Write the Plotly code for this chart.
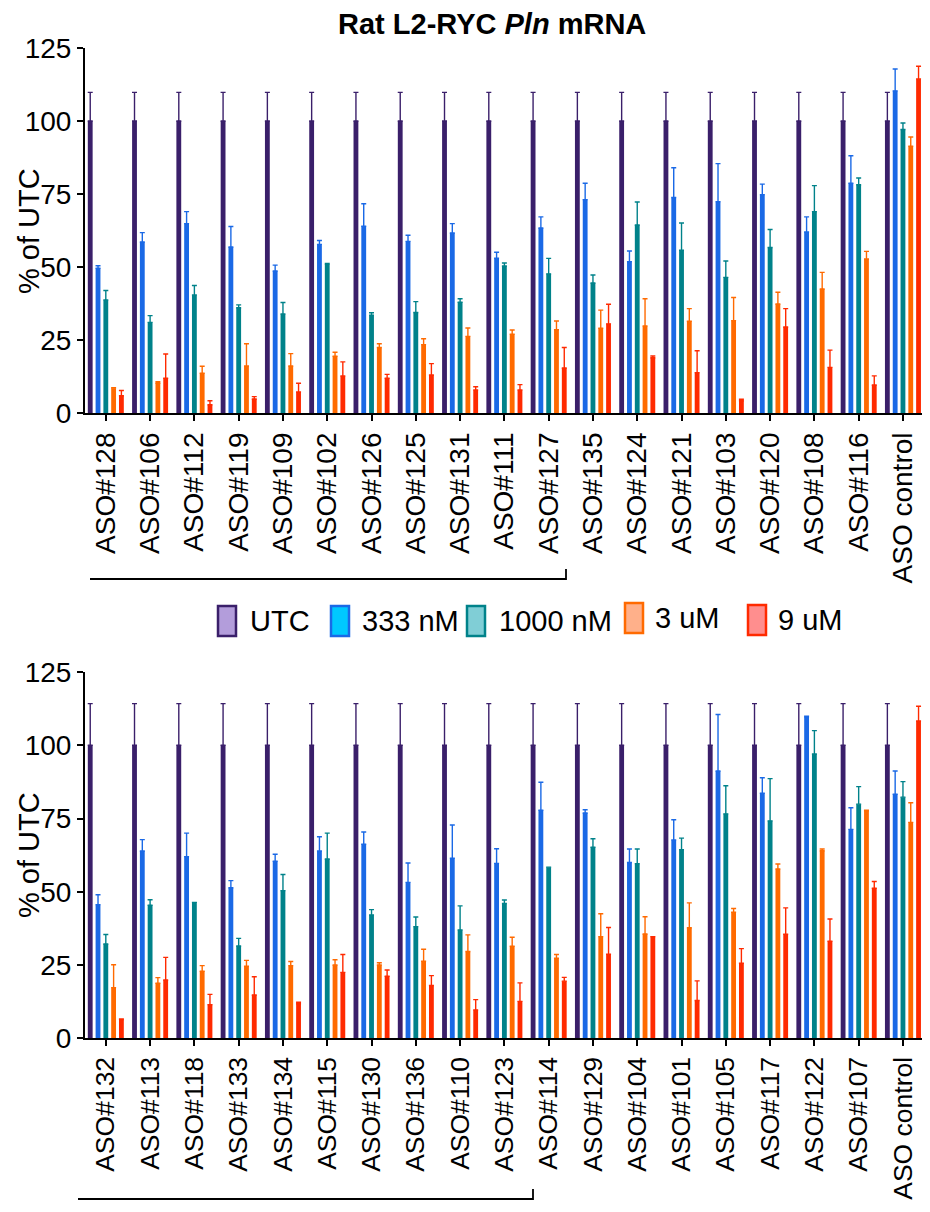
import plotly.graph_objects as go

# ---------------- data ----------------
series_names = ["UTC", "333 nM", "1000 nM", "3 uM", "9 uM"]

top_categories = ["ASO#128", "ASO#106", "ASO#112", "ASO#119", "ASO#109", "ASO#102",
                  "ASO#126", "ASO#125", "ASO#131", "ASO#111", "ASO#127", "ASO#135",
                  "ASO#124", "ASO#121", "ASO#103", "ASO#120", "ASO#108", "ASO#116",
                  "ASO control"]
top_utc = [100] * 19
top_utc_err = [9.8] * 19
top_333 = [49.6, 58.6, 64.9, 56.9, 48.7, 57.8, 64.0, 58.8, 61.7, 53.1, 63.4, 73.1,
           51.9, 73.8, 72.4, 74.8, 62.0, 78.7, 110.3]
top_333_err = [0.9, 3.2, 4.1, 7.0, 2.0, 1.3, 7.7, 2.1, 3.2, 2.0, 3.8, 5.6,
               3.6, 10.2, 13.0, 3.6, 5.2, 9.4, 7.5]
top_1000 = [38.8, 31.1, 40.5, 36.1, 34.0, 51.1, 33.6, 34.5, 38.0, 50.4, 47.7, 44.6,
            64.4, 55.8, 46.5, 56.7, 69.0, 78.2, 97.1]
top_1000_err = [3.2, 2.3, 3.2, 1.0, 3.9, 0.2, 0.8, 3.7, 1.2, 1.0, 5.3, 2.7,
                7.9, 9.3, 5.6, 6.2, 8.9, 2.3, 2.2]
top_3u = [8.6, 10.3, 13.7, 16.2, 16.2, 19.5, 22.5, 23.5, 26.3, 27.1, 28.6, 29.1,
          29.9, 31.5, 31.7, 37.4, 42.5, 52.8, 91.4]
top_3u_err = [0.2, 0.5, 2.4, 7.6, 4.2, 1.4, 1.3, 2.0, 2.9, 1.4, 3.0, 6.2,
              9.3, 4.3, 7.9, 4.0, 5.7, 2.6, 3.1]
top_9u = [6.0, 12.0, 2.9, 4.9, 7.3, 12.8, 12.0, 13.1, 8.0, 8.0, 15.5, 30.6,
          19.0, 13.9, 4.3, 29.5, 15.7, 9.7, 114.4]
top_9u_err = [1.8, 8.3, 1.4, 0.8, 3.0, 4.8, 1.3, 3.9, 1.1, 1.8, 7.0, 6.7,
              0.6, 7.5, 0.5, 6.3, 5.9, 3.1, 4.3]

bot_categories = ["ASO#132", "ASO#113", "ASO#118", "ASO#133", "ASO#134", "ASO#115",
                  "ASO#130", "ASO#136", "ASO#110", "ASO#123", "ASO#114", "ASO#129",
                  "ASO#104", "ASO#101", "ASO#105", "ASO#117", "ASO#122", "ASO#107",
                  "ASO control"]
bot_utc = [100] * 19
bot_utc_err = [14.2] * 19
bot_333 = [45.6, 63.9, 62.0, 51.4, 60.4, 63.9, 66.2, 53.2, 61.5, 59.7, 77.8, 76.9,
           60.0, 67.7, 91.2, 83.6, 109.7, 71.3, 83.3]
bot_333_err = [3.4, 3.9, 8.0, 2.4, 2.4, 4.9, 4.2, 6.6, 11.3, 5.0, 9.6, 1.1,
               4.6, 6.9, 19.3, 5.3, 0.2, 7.4, 7.9]
bot_1000 = [32.2, 45.4, 46.4, 31.5, 50.4, 61.2, 42.1, 38.1, 37.0, 46.0, 58.4, 65.2,
            59.6, 64.4, 76.6, 74.2, 97.0, 79.9, 82.3]
bot_1000_err = [3.2, 1.9, 0.0, 2.6, 5.5, 8.8, 1.8, 3.3, 8.2, 1.2, 0.0, 2.9,
                5.0, 3.9, 9.6, 14.4, 8.0, 6.0, 5.3]
bot_3u = [17.3, 18.8, 22.9, 24.6, 24.8, 25.0, 25.0, 26.3, 29.6, 31.4, 27.3, 34.7,
          35.6, 37.7, 43.0, 57.8, 64.0, 77.6, 73.7]
bot_3u_err = [7.8, 1.9, 1.9, 2.0, 1.4, 1.8, 0.8, 4.1, 5.7, 3.1, 1.3, 7.8,
              5.9, 8.5, 1.3, 1.7, 0.6, 0.2, 6.7]
bot_9u = [6.4, 19.9, 11.5, 14.8, 11.8, 22.5, 21.2, 18.0, 9.7, 12.6, 19.5, 28.7,
          34.7, 12.9, 25.6, 35.5, 33.1, 51.2, 108.3]
bot_9u_err = [0.2, 7.7, 3.5, 6.2, 0.5, 6.1, 2.1, 3.4, 3.5, 6.3, 1.3, 9.1,
              0.0, 6.7, 5.0, 9.0, 7.6, 2.3, 5.0]

y_ticks = [0, 25, 50, 75, 100, 125]

# ---------------- styles ----------------
bar_colors = ["#3a1f6a", "#1a69e6", "#00828a", "#ff6a00", "#ff2a00"]
legend_fill = ["#b39ddb", "#00c8ff", "#80ced6", "#ffb08a", "#ff8e8e"]
FONT = "Liberation Sans, Arial, Helvetica, sans-serif"

OFF = 8                 # default page body margin (all sides)
W, H = 930 - 2 * OFF, 1212 - 2 * OFF
ML, MR = 85 - OFF, 0
PW = W - ML - MR


def px(x):
    """page pixel x -> paper x"""
    return (x - OFF - ML) / PW


def py(y):
    """page pixel y -> paper y"""
    return (H - (y - OFF)) / H


fig = go.Figure()

top_sets = [(top_utc, top_utc_err), (top_333, top_333_err), (top_1000, top_1000_err),
            (top_3u, top_3u_err), (top_9u, top_9u_err)]
bot_sets = [(bot_utc, bot_utc_err), (bot_333, bot_333_err), (bot_1000, bot_1000_err),
            (bot_3u, bot_3u_err), (bot_9u, bot_9u_err)]

for cats, sets, xa, ya in [(top_categories, top_sets, "x", "y"),
                           (bot_categories, bot_sets, "x2", "y2")]:
    for i, (vals, errs) in enumerate(sets):
        fig.add_trace(go.Bar(
            x=cats, y=vals, name=series_names[i], xaxis=xa, yaxis=ya,
            marker=dict(color=bar_colors[i], line=dict(width=0)),
            error_y=dict(type="data", array=errs, arrayminus=[0] * len(errs),
                         symmetric=False, color=bar_colors[i],
                         thickness=1.4, width=2.5),
            showlegend=False, cliponaxis=False,
        ))

axis_common = dict(showline=True, linecolor="black", linewidth=2,
                   ticks="outside", ticklen=6, tickwidth=2, tickcolor="black",
                   showgrid=False, zeroline=False)

x_range = [-0.47, 18.43]
fig.update_layout(
    width=W, height=H,
    margin=dict(l=ML, r=MR, t=0, b=0, autoexpand=False),
    plot_bgcolor="white", paper_bgcolor="white",
    barmode="group", bargap=0.12, bargroupgap=0.38,
    font=dict(family=FONT, color="black"),
    xaxis=dict(domain=[0, 1], anchor="y", range=x_range, type="category",
               tickangle=-90, tickfont=dict(size=28), **axis_common),
    yaxis=dict(domain=[py(413.3), py(47.9)], anchor="x", range=[0, 125],
               tickvals=y_ticks, tickfont=dict(size=28), **axis_common),
    xaxis2=dict(domain=[0, 1], anchor="y2", range=x_range, type="category",
                tickangle=-90, tickfont=dict(size=26.5), **axis_common),
    yaxis2=dict(domain=[py(1038.3), py(672.0)], anchor="x2", range=[0, 125],
                tickvals=y_ticks, tickfont=dict(size=28), **axis_common),
)

annotations = [
    dict(text="<b>Rat L2-RYC <i>Pln</i> mRNA</b>", x=px(492), y=py(24),
         xref="paper", yref="paper", showarrow=False, font=dict(size=29),
         xanchor="center", yanchor="middle"),
    dict(text="% of UTC", x=px(29), y=py(231), xref="paper", yref="paper",
         showarrow=False, textangle=-90, font=dict(size=29),
         xanchor="center", yanchor="middle"),
    dict(text="% of UTC", x=px(29), y=py(855), xref="paper", yref="paper",
         showarrow=False, textangle=-90, font=dict(size=29),
         xanchor="center", yanchor="middle"),
]

shapes = []
# brackets
shapes.append(dict(type="path", xref="paper", yref="paper",
                   path=f"M{px(90)},{py(579)} L{px(566)},{py(579)} L{px(566)},{py(569)}",
                   line=dict(color="black", width=1.8)))
shapes.append(dict(type="path", xref="paper", yref="paper",
                   path=f"M{px(78)},{py(1199)} L{px(533)},{py(1199)} L{px(533)},{py(1189)}",
                   line=dict(color="black", width=1.8)))

# manual legend
legend_items = [
    (217, 605, 248),
    (330, 605, 360),
    (466, 605, 497),
    (624, 602, 653),
    (747, 604, 776),
]
for i, (rx, ry, tx) in enumerate(legend_items):
    shapes.append(dict(type="rect", xref="paper", yref="paper",
                       x0=px(rx + 1), x1=px(rx + 19), y0=py(ry + 1), y1=py(ry + 31),
                       fillcolor=legend_fill[i],
                       line=dict(color=bar_colors[i], width=2.5)))
    annotations.append(dict(text=series_names[i], x=px(tx), y=py(ry + 16),
                            xref="paper", yref="paper", showarrow=False,
                            font=dict(size=29), xanchor="left", yanchor="middle"))

fig.update_layout(annotations=annotations, shapes=shapes)

fig.write_html("out.html")
